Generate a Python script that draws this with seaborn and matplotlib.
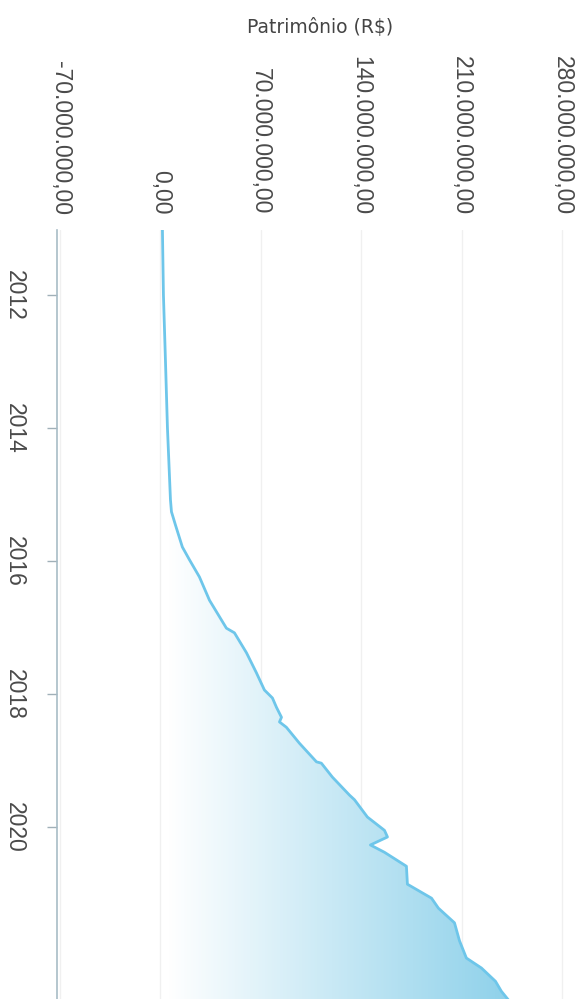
import numpy as np
import pandas as pd
import matplotlib
matplotlib.use("Agg")
import matplotlib.pyplot as plt
from matplotlib.colors import LinearSegmentedColormap
import seaborn as sns

# patrimônio ao longo do tempo (ano decimal, valor em R$)
anos = [2011.02, 2012.00, 2012.98, 2014.00, 2015.08, 2015.26, 2015.46, 2015.79,
        2015.98, 2016.24, 2016.59, 2017.01, 2017.08, 2017.38, 2017.68, 2017.94,
        2018.06, 2018.20, 2018.35, 2018.42, 2018.50, 2018.74, 2019.02, 2019.04,
        2019.25, 2019.52, 2019.59, 2019.85, 2020.05, 2020.15, 2020.27, 2020.38,
        2020.59, 2020.86, 2021.07, 2021.22, 2021.44, 2021.71, 2021.97, 2022.12,
        2022.32, 2022.47, 2022.60]
valores_mi = [1.4, 2.1, 3.5, 4.9, 7.0, 7.7, 10.5, 15.3,
              20.2, 27.2, 34.2, 46.0, 51.6, 60.0, 66.9, 72.5,
              78.1, 80.9, 84.4, 83.0, 87.8, 96.9, 108.8, 112.2,
              119.9, 131.8, 135.3, 144.3, 156.2, 158.3, 146.4, 156.2,
              171.5, 172.2, 189.0, 193.8, 205.0, 208.5, 213.3, 223.8,
              233.6, 237.7, 242.6]
valores = [v * 1e6 for v in valores_mi]

ticks_valor = [-70e6, 0, 70e6, 140e6, 210e6, 280e6]
labels_valor = ["-70.000.000,00", "0,00", "70.000.000,00", "140.000.000,00",
                "210.000.000,00", "280.000.000,00"]
ticks_ano = [2012, 2014, 2016, 2018, 2020]

df = pd.DataFrame({"ano": anos, "valor": valores})

sns.set_style("white")
plt.rcParams["font.family"] = ["Liberation Sans", "DejaVu Sans"]

fig = plt.figure(figsize=(5.86, 9.99), dpi=100)
ax = fig.add_axes([57 / 586, 0, 529 / 586, 769 / 999])

cor_linha = "#6ec6ea"

# area com degradê (mais forte nos valores altos)
poly = ax.fill_betweenx(df["ano"], -72e6, df["valor"], facecolor="none", edgecolor="none")
cmap = LinearSegmentedColormap.from_list("grad", ["#ffffff", "#78c8e6"])
grad = np.linspace(0, 1, 256).reshape(1, -1)
im = ax.imshow(grad, extent=[5e6, 290e6, 2022.7, 2011.0], aspect="auto",
               cmap=cmap, zorder=1, interpolation="bilinear")
im.set_clip_path(poly.get_paths()[0], transform=ax.transData)

sns.lineplot(data=df, x="valor", y="ano", orient="y", sort=False,
             color=cor_linha, lw=2.0, ax=ax, zorder=3)

ax.set_xlim(-72.1e6, 296.7e6)
ax.set_ylim(2022.586, 2011.023)

ax.xaxis.tick_top()
ax.set_xticks(ticks_valor)
ax.set_xticklabels(labels_valor)
ax.tick_params(axis="x", length=0, pad=11, labelsize=16.5, labelcolor="#4a4a4a",
               labelrotation=-90)
ax.set_yticks(ticks_ano)
ax.set_yticklabels([str(a) for a in ticks_ano])
ax.tick_params(axis="y", length=7.5, width=1, color="#a0b0b8", pad=15, labelsize=16.5,
               labelcolor="#4a4a4a", labelrotation=-90, left=True)
for lbl in ax.get_yticklabels():
    lbl.set_va("center")

ax.grid(axis="x", color="#f0f0f0", lw=1)
ax.grid(axis="y", visible=False)
ax.set_axisbelow(True)
for s in ["top", "right", "bottom"]:
    ax.spines[s].set_visible(False)
ax.spines["left"].set_color("#a8bcc6")
ax.spines["left"].set_linewidth(1.2)
ax.set_xlabel("")
ax.set_ylabel("")

fig.text(320 / 586, 1 - 28 / 999, "Patrimônio (R$)", ha="center", va="center",
         fontsize=13.5, color="#444444", family=["DejaVu Sans"])

fig.savefig("out.png", dpi=100)
